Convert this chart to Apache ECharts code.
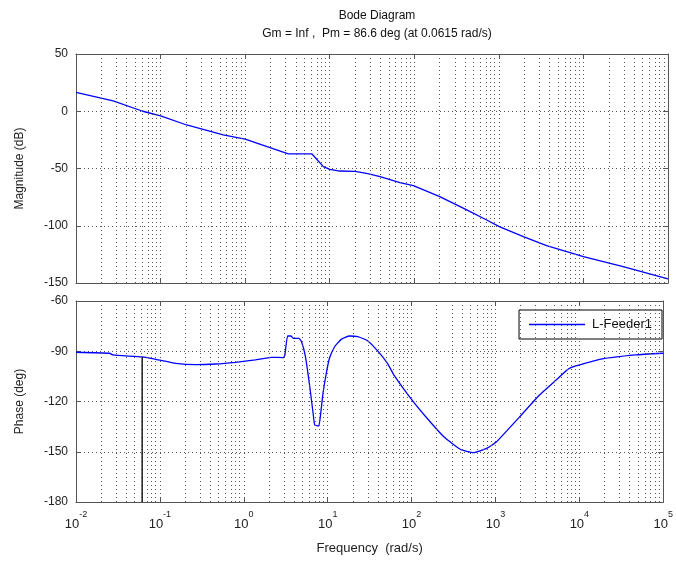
<!DOCTYPE html>
<html>
<head>
<meta charset="utf-8">
<script src="https://cdn.jsdelivr.net/npm/echarts@6/dist/echarts.min.js"></script>
<style>html,body{margin:0;padding:0;background:#fff;}#c{width:676px;height:562px;}</style>
</head>
<body>
<div id="c"></div>
<script>
// ---- data (frequency in rad/s) ----
var magFreq = [0.01,0.0275,0.0615,0.1,0.204,0.55,1,3.24,6.17,8.41,10,13.2,20,28.2,39.4,67.6,97.7,200,417,718,1012,1950,3670,10000,29500,100000];
var magDb   = [16.5,9,0,-4,-12,-20.7,-24.3,-37.3,-37.3,-48.4,-50.7,-52.2,-52.5,-54.5,-57.1,-62.4,-65,-74.6,-86.2,-95,-100.8,-109.5,-117.4,-127,-135.8,-146.5];
var phFreq  = [0.01,0.0251,0.0275,0.0615,0.0899,0.155,0.267,0.46,0.794,1.37,2.15,2.96,3.09,3.33,3.65,3.89,4.54,4.88,5.43,6.12,6.70,7.01,7.82,8.26,8.79,9.62,10.5,12.1,14.5,18.2,22.8,29.9,39.4,51.6,61.7,97.7,153,242,380,546,785,1030,1950,3350,5280,7590,18800,46800,100000];
var phDeg   = [-90.6,-91.2,-92.2,-93.4,-94.8,-97.2,-98,-97.6,-96.6,-95.2,-93.6,-93.8,-92.2,-80.9,-80.9,-82.3,-82.3,-84.3,-93.2,-111.2,-127,-134,-134.6,-127,-115.1,-103.2,-94.2,-87.3,-82.9,-80.9,-81.3,-83.7,-89.8,-97.2,-104.2,-118.1,-130,-141,-148.5,-150.5,-148,-144,-129,-116.1,-107.2,-100.2,-94.6,-92.2,-91.2];
var pmFreq = 0.0615, pmPhase = -93.4;
var magTicks = [50,0,-50,-100,-150];
var phTicks = [-60,-90,-120,-150,-180];
var titleText = 'Bode Diagram';
var subText = 'Gm = Inf ,  Pm = 86.6 deg (at 0.0615 rad/s)';
var seriesName = 'L-Feeder1';

function lg(v){ return Math.log10(v); }
function pairs(f, v){ return f.map(function(x,i){ return [lg(x), v[i]]; }); }

var minorX = [];
for (var d = -2; d < 5; d++) for (var k = 2; k <= 9; k++) minorX.push({xAxis: d + Math.log10(k)});

var FONT = 'Liberation Sans, Arial, sans-serif';
var dotted = {type:[1,3], color:'#555', width:1};

function xAx(grid, pos, labels){
  return {type:'value', gridIndex:grid, position:pos, min:-2, max:5, interval:1,
    axisLine:{show:true, onZero:false, lineStyle:{color:'#555'}},
    axisTick:{show:true, inside:true, length:5, lineStyle:{color:'#555'}},
    splitLine:{show:pos==='bottom', lineStyle:dotted},
    axisLabel: labels ? {show:true, margin:8, fontFamily:FONT, color:'#222',
      formatter:function(v){ return '{b|10}{s|' + Math.round(v) + '}'; },
      rich:{b:{fontSize:13, fontFamily:FONT, color:'#222', padding:[8,0,0,0]}, s:{fontSize:9, fontFamily:FONT, color:'#222', verticalAlign:'top'}}} : {show:false},
    name: labels ? 'Frequency  (rad/s)' : '', nameLocation:'middle', nameGap:40,
    nameTextStyle:{fontSize:13, fontFamily:FONT, color:'#222'}
  };
}
function yAx(grid, pos, min, max, interval, name){
  return {type:'value', gridIndex:grid, position:pos, min:min, max:max, interval:interval,
    axisLine:{show:true, onZero:false, lineStyle:{color:'#555'}},
    axisTick:{show:true, inside:true, length:5, lineStyle:{color:'#555'}},
    splitLine:{show:pos==='left', lineStyle:dotted},
    axisLabel: pos==='left' ? {show:true, margin:8, fontSize:12, fontFamily:FONT, color:'#222'} : {show:false},
    name: pos==='left' ? name : '', nameLocation:'middle', nameGap:50,
    nameTextStyle:{fontSize:12, fontFamily:FONT, color:'#222'}
  };
}

var chart = echarts.init(document.getElementById('c'), null, {renderer:'canvas'});
chart.setOption({
  animation:false,
  backgroundColor:'#fff',
  title:[
    {text:titleText, left:372, top:5, textAlign:'center', textStyle:{fontSize:12, fontWeight:'normal', fontFamily:FONT, color:'#111'}},
    {text:subText, left:372, top:23, textAlign:'center', textStyle:{fontSize:12, fontWeight:'normal', fontFamily:FONT, color:'#111'}}
  ],
  grid:[
    {left:76, top:54, width:592, height:229},
    {left:76, top:301, width:592, height:201}
  ],
  xAxis:[xAx(0,'bottom',false), xAx(0,'top',false), xAx(1,'bottom',true), xAx(1,'top',false)],
  yAxis:[yAx(0,'left',-150,50,50,'Magnitude (dB)'), yAx(0,'right',-150,50,50,''),
         yAx(1,'left',-180,-60,30,'Phase (deg)'), yAx(1,'right',-180,-60,30,'')],
  legend:{show:true, data:[seriesName], right:14, top:310, orient:'horizontal',
    icon:'rect', backgroundColor:'#fff', borderColor:'#000', borderWidth:1, borderRadius:0,
    padding:[8,10,8,10], itemWidth:56, itemHeight:1.5, itemGap:5,
    textStyle:{fontSize:13, fontFamily:FONT, color:'#111', padding:[0,0,0,2]}},
  series:[
    {name:seriesName, type:'line', xAxisIndex:0, yAxisIndex:0, data:pairs(magFreq, magDb),
      symbol:'none', lineStyle:{color:'#0000ff', width:1.3}, itemStyle:{color:'#0000ff'},
      markLine:{silent:true, symbol:'none', label:{show:false}, lineStyle:dotted, data:minorX}},
    {name:seriesName, type:'line', xAxisIndex:2, yAxisIndex:2, data:pairs(phFreq, phDeg),
      symbol:'none', smooth:0.15, lineStyle:{color:'#0000ff', width:1.3}, itemStyle:{color:'#0000ff'},
      markLine:{silent:true, symbol:'none', label:{show:false}, lineStyle:dotted, data:minorX}},
    {name:'pm', type:'line', xAxisIndex:2, yAxisIndex:2, symbol:'none',
      data:[[lg(pmFreq), pmPhase],[lg(pmFreq), -180]], lineStyle:{color:'#000', width:1.3}, z:3}
  ]
});
</script>
</body>
</html>
